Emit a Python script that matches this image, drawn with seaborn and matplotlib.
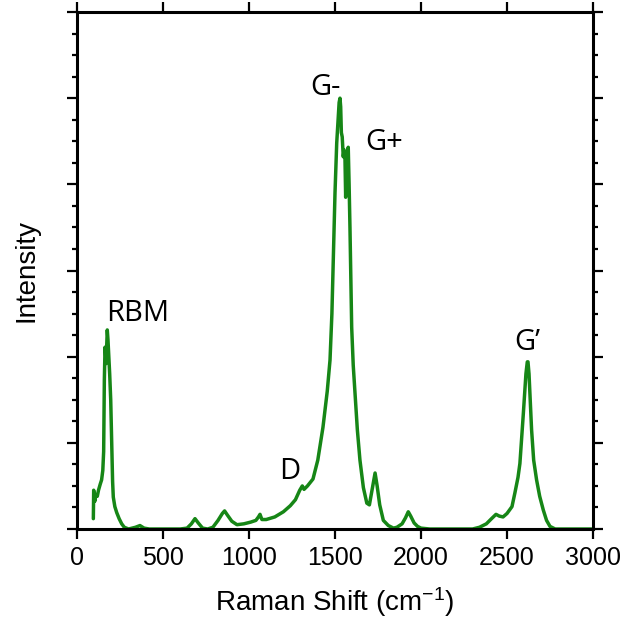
import matplotlib
matplotlib.use("Agg")
import matplotlib.pyplot as plt
import seaborn as sns
import pandas as pd
from matplotlib.ticker import MultipleLocator, AutoMinorLocator

# ---- data ----
raman_shift = [95, 97, 103, 110, 118, 125, 135, 143, 150, 155, 159, 163, 166, 169, 173, 176,
               180, 185, 190, 196, 202, 207, 211, 220, 231, 245, 260, 275, 300, 340, 366, 390,
               420, 500, 600, 640, 665, 686, 705, 730, 760, 790, 820, 845, 858, 875, 900, 930,
               970, 1010, 1040, 1055, 1064, 1075, 1100, 1150, 1200, 1240, 1270, 1295, 1310, 1320,
               1340, 1372, 1400, 1430, 1455, 1471, 1482, 1490, 1500, 1510, 1518, 1524, 1529, 1533,
               1537, 1542, 1548, 1553, 1558, 1562, 1566, 1572, 1577, 1582, 1587, 1592, 1597, 1606,
               1616, 1630, 1645, 1665, 1685, 1700, 1715, 1733, 1745, 1760, 1781, 1810, 1840, 1860,
               1890, 1910, 1926, 1940, 1960, 1980, 2000, 2050, 2200, 2300, 2340, 2380, 2410, 2436,
               2455, 2477, 2500, 2529, 2546, 2564, 2575, 2595, 2610, 2618, 2622, 2628, 2635, 2643,
               2655, 2672, 2690, 2711, 2730, 2750, 2780, 3000]
intensity = [0.12, 0.45, 0.32, 0.40, 0.38, 0.45, 0.52, 0.57, 0.68, 0.90, 1.73, 2.11, 2.05, 1.92, 2.15, 2.31,
             2.20, 2.00, 1.80, 1.50, 0.95, 0.55, 0.37, 0.26, 0.19, 0.12, 0.06, 0.02, 0.00, 0.02, 0.04, 0.01,
             0.00, 0.00, 0.00, 0.01, 0.06, 0.12, 0.07, 0.01, 0.00, 0.02, 0.10, 0.18, 0.21, 0.16, 0.09, 0.05,
             0.06, 0.08, 0.10, 0.14, 0.17, 0.11, 0.11, 0.14, 0.20, 0.27, 0.34, 0.45, 0.50, 0.46,
             0.50, 0.58, 0.80, 1.18, 1.60, 1.96, 2.50, 3.12, 3.90, 4.48, 4.75, 4.95, 5.00, 4.90,
             4.60, 4.55, 4.32, 4.40, 4.30, 3.85, 4.20, 4.35, 4.43, 4.00, 3.50, 2.90, 2.34, 1.90,
             1.58, 1.15, 0.80, 0.48, 0.30, 0.28, 0.45, 0.65, 0.50, 0.28, 0.10, 0.04, 0.01, 0.02,
             0.06, 0.13, 0.20, 0.15, 0.07, 0.03, 0.01, 0.00, 0.00, 0.00, 0.02, 0.06, 0.12, 0.17,
             0.15, 0.14, 0.18, 0.26, 0.42, 0.60, 0.76, 1.34, 1.80, 1.94, 1.94, 1.80, 1.50, 1.15,
             0.80, 0.57, 0.38, 0.22, 0.10, 0.03, 0.00, 0.00]

peak_labels = ["RBM", "D", "G-", "G+", "G\u2019"]
peak_label_x = [355, 1238, 1442, 1785, 2616]
peak_label_y = [2.5, 0.67, 5.12, 4.48, 2.16]

x_ticks = [0, 500, 1000, 1500, 2000, 2500, 3000]

df = pd.DataFrame({"shift": raman_shift, "intensity": intensity})

sns.set_theme(style="white")
plt.rcParams["font.family"] = ["Liberation Sans", "DejaVu Sans"]
plt.rcParams["mathtext.fontset"] = "custom"
plt.rcParams["mathtext.rm"] = "Liberation Sans"
plt.rcParams["mathtext.it"] = "Liberation Sans"
plt.rcParams["text.color"] = "black"
plt.rcParams["axes.labelcolor"] = "black"
plt.rcParams["xtick.color"] = "black"
plt.rcParams["ytick.color"] = "black"

fig = plt.figure(figsize=(6.22, 6.26), dpi=100)
ax = fig.add_axes([77 / 622, 1 - 529 / 626, (593 - 77) / 622, (529 - 12) / 626])

sns.lineplot(data=df, x="shift", y="intensity", ax=ax, color="#168616", linewidth=2.5,
             sort=False, estimator=None, clip_on=True)

for lab, lx, ly in zip(peak_labels, peak_label_x, peak_label_y):
    ax.text(lx, ly, lab, ha="center", va="center", fontsize=21,
            family=["Open Sans", "DejaVu Sans"], color="black")

ax.set_xlim(0, 3000)
ax.set_ylim(0, 6)
ax.set_xticks(x_ticks)
ax.set_xticklabels([str(t) for t in x_ticks])
ax.yaxis.set_major_locator(MultipleLocator(1))
ax.yaxis.set_minor_locator(AutoMinorLocator(4))
ax.set_yticklabels([])

for s in ax.spines.values():
    s.set_visible(True)
    s.set_linewidth(2.2)
    s.set_color("black")

ax.tick_params(axis="x", which="major", direction="out", length=7, width=1.6,
               top=True, bottom=True, labelsize=18, pad=5, colors="black")
ax.tick_params(axis="y", which="major", direction="out", length=7, width=1.6,
               left=True, right=True, labelleft=False, colors="black")
ax.tick_params(axis="y", which="minor", direction="out", length=3.8, width=1.6,
               left=True, right=True, colors="black")

ax.set_xlabel(r"Raman Shift (cm$^{-1}$)", fontsize=20, labelpad=11, color="black")
ax.set_ylabel("Intensity", fontsize=20, labelpad=20, color="black")

fig.savefig("out.png", dpi=100)
